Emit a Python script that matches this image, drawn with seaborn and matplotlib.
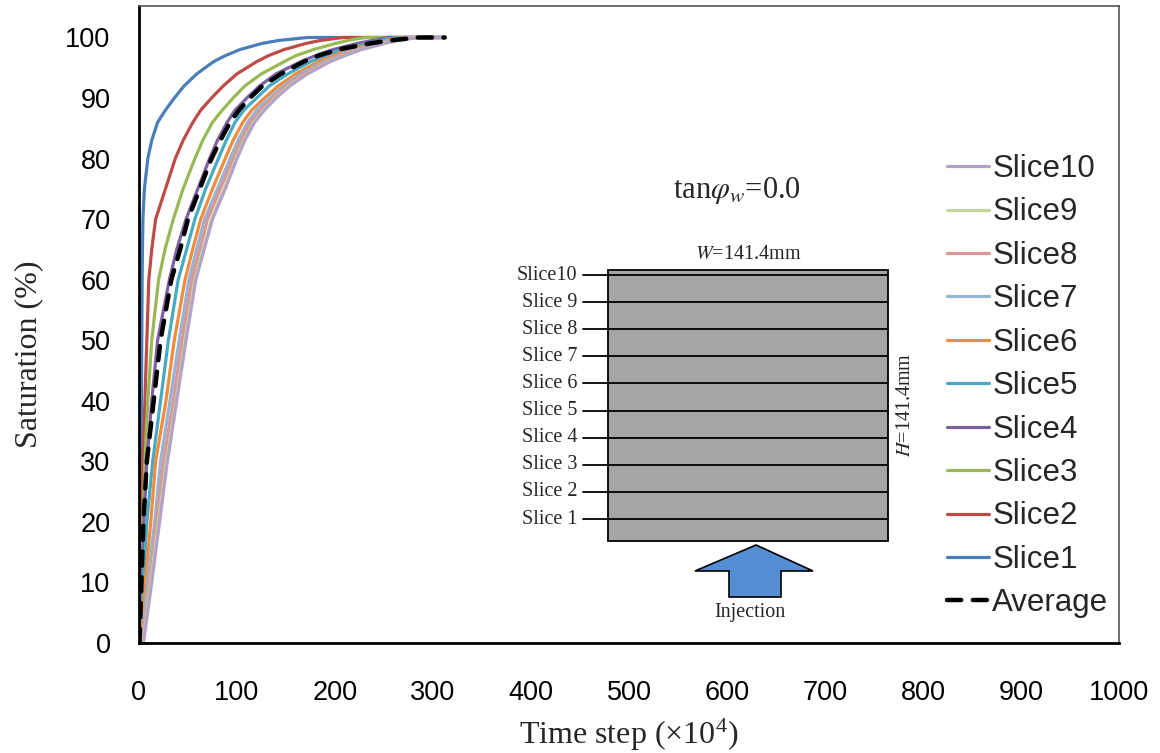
import numpy as np
import pandas as pd
import matplotlib
matplotlib.use("Agg")
import matplotlib.pyplot as plt
import seaborn as sns
from matplotlib.patches import Rectangle, Polygon

# ---------------- data ----------------
sat_levels = [0, 10, 20, 30, 40, 50, 60, 65, 70, 75, 80, 83, 86, 88, 90, 92,
              94, 96, 97, 98, 99, 99.5, 100, 100]

slice1_t = [0, 1, 1.5, 2, 2.5, 2.8, 3.2, 3.5, 4, 5.5, 9, 13, 19, 27, 36, 46,
            59, 76, 88, 103, 125, 142, 172, 312]
slice2_t = [0.5, 1.5, 2.5, 4, 6, 8, 10, 13, 17, 27, 37, 45, 55, 63, 74, 86,
            100, 120, 132, 148, 170, 185, 208, 312]
slice3_t = [1, 2.5, 4, 6, 9, 13, 20, 26.5, 35, 45, 57, 65, 75, 85, 96, 108,
            125, 148, 160, 178, 200, 213, 230, 312]
slice4_t = [1, 3, 5, 8, 13, 19, 31, 38.5, 48, 60, 72, 80, 90, 98, 110, 123,
            140, 165, 180, 198, 222, 238, 255, 312]
slice5_t = [2, 4.5, 8, 14, 22, 30, 40, 48.6, 57, 68, 81, 89, 98, 107, 120, 133,
            152, 175, 190, 208, 232, 246, 262, 312]
slice6_t = [2.5, 6.5, 12, 17, 27.5, 36, 47, 54.8, 63, 75, 88, 96, 106, 115, 128,
            142, 160, 183, 198, 215, 238, 252, 270, 312]
slice7_t = [3, 9, 16, 22, 31.6, 41, 51, 58.8, 67, 80, 93, 101, 111, 120, 133,
            147, 165, 188, 203, 220, 243, 257, 275, 312]
slice8_t = [3.5, 11, 18, 25, 35, 44, 54, 62, 70, 83, 96, 104, 114, 124, 136,
            150, 168, 191, 206, 223, 246, 260, 278, 312]
slice9_t = [4, 12, 20, 28, 37.8, 47, 57, 65.5, 74, 87, 99, 107, 117, 127, 139,
            153, 171, 194, 209, 226, 249, 263, 282, 312]
slice10_t = [4.5, 13, 21, 29, 38.5, 48, 58, 66.5, 75, 88, 100, 108, 118, 128,
             140, 154, 172, 195, 210, 227, 250, 264, 285, 312]
average_t = [0.5, 2.5, 4.5, 8, 15, 22, 33, 42, 50, 62, 74, 83, 93, 102, 113,
             126, 145, 168, 183, 203, 235, 255, 285, 312]

series_names = ["Slice1", "Slice2", "Slice3", "Slice4", "Slice5",
                "Slice6", "Slice7", "Slice8", "Slice9", "Slice10"]
series_times = [slice1_t, slice2_t, slice3_t, slice4_t, slice5_t,
                slice6_t, slice7_t, slice8_t, slice9_t, slice10_t]
series_colors = ["#4A7EBB", "#BE4B48", "#98B954", "#7D60A0", "#46AAC5",
                 "#F08C3C", "#95B3D7", "#D99694", "#C3D69B", "#B3A2C7"]

x_ticks = [0, 100, 200, 300, 400, 500, 600, 700, 800, 900, 1000]
y_ticks = [0, 10, 20, 30, 40, 50, 60, 70, 80, 90, 100]

diagram_labels = ["Slice10", "Slice 9", "Slice 8", "Slice 7", "Slice 6",
                  "Slice 5", "Slice 4", "Slice 3", "Slice 2", "Slice 1"]

# ---------------- style ----------------
sns.set_theme(style="white")
plt.rcParams["font.family"] = ["Liberation Sans", "DejaVu Sans"]
plt.rcParams["mathtext.fontset"] = "stix"

W, H = 1160, 753
fig = plt.figure(figsize=(W / 100, H / 100), dpi=100)
fig.patch.set_facecolor("white")
ax = fig.add_axes([139 / W, (H - 643) / H, 980 / W, 637 / H])

rows = []
for name, ts in zip(series_names, series_times):
    for t, s in zip(ts, sat_levels):
        rows.append((name, t, s))
df = pd.DataFrame(rows, columns=["series", "time", "sat"])

handles = {}
for name, color in zip(series_names, series_colors):
    sub = df[df["series"] == name]
    sns.lineplot(data=sub, x="time", y="sat", ax=ax, color=color, lw=2.3,
                 sort=False, estimator=None, label=name, legend=False,
                 solid_joinstyle="round")
    handles[name] = ax.lines[-1]

avg_df = pd.DataFrame({"time": average_t, "sat": sat_levels})
sns.lineplot(data=avg_df, x="time", y="sat", ax=ax, color="black", lw=3.2,
             sort=False, estimator=None, label="Average", legend=False,
             linestyle=(0, (3.2, 2.6)), dash_capstyle="round",
             solid_capstyle="round")
handles["Average"] = ax.lines[-1]

ax.set_xlim(0, 1000)
ax.set_ylim(0, 105.2)
ax.set_xticks(x_ticks)
ax.set_yticks(y_ticks)
ax.tick_params(axis="both", direction="out", length=6.5, width=1.0,
               labelsize=19.5, colors="black", pad=14)
ax.tick_params(axis="x", pad=20)
for side in ["left", "bottom"]:
    ax.spines[side].set_color("black")
    ax.spines[side].set_linewidth(2.0)
for side in ["top", "right"]:
    ax.spines[side].set_color("#555555")
    ax.spines[side].set_linewidth(1.2)

serif = ["Liberation Serif", "DejaVu Serif"]
ax.set_xlabel(r"Time step (×10$^{\mathregular{4}}$)", fontsize=23, family=serif)
ax.set_ylabel("Saturation (%)", fontsize=23, family=serif)
ax.xaxis.set_label_coords(0.5, (643 - 716) / 637)
ax.yaxis.set_label_coords((43 - 139) / 980, (643 - 354) / 637)

order = series_names[::-1] + ["Average"]
leg = ax.legend([handles[n] for n in order], order, loc="upper left",
                bbox_to_anchor=((947 - 139) / 980, (643 - 154) / 637),
                frameon=False, fontsize=22.5, handlelength=1.35,
                handletextpad=0.1, labelspacing=0.43, borderpad=0,
                borderaxespad=0)

# ---------------- schematic inset (pixel coordinate overlay) ----------------
sk = fig.add_axes([0, 0, 1, 1], zorder=5)
sk.set_xlim(0, W)
sk.set_ylim(H, 0)
sk.axis("off")
sk.patch.set_alpha(0)

sk.add_patch(Rectangle((608, 270), 280, 271, facecolor="#A6A6A6",
                       edgecolor="black", lw=1.3))
line_y = np.linspace(275, 519, len(diagram_labels))
for yy, lab in zip(line_y, diagram_labels):
    sk.plot([583, 888], [yy, yy], color="black", lw=1.3)
    sk.text(577, yy, lab, ha="right", va="center", fontsize=14.5, family=serif)

sk.text(748, 254, r"$\mathit{W}$=141.4mm", ha="center", va="center",
        fontsize=14.5, family=serif)
sk.text(905, 405, r"$\mathit{H}$=141.4mm", ha="center", va="center",
        rotation=90, fontsize=14.5, family=serif)
sk.text(737, 190, r"tan$\varphi_{w}$=0.0", ha="center", va="center",
        fontsize=22, family=serif)

arrow_xy = [(756, 545), (813, 571), (781, 571), (781, 597),
            (729, 597), (729, 571), (695, 571)]
sk.add_patch(Polygon(arrow_xy, closed=True, facecolor="#558ED5",
                     edgecolor="black", lw=1.2))
sk.text(750, 612, "Injection", ha="center", va="center", fontsize=14.5,
        family=serif)

fig.savefig("out.png", dpi=100)
